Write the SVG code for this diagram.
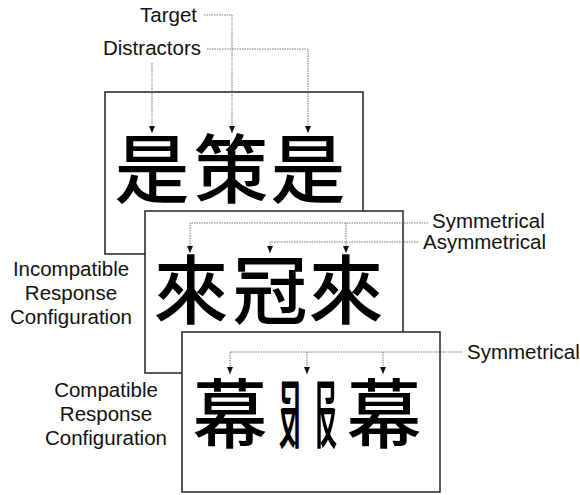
<svg xmlns="http://www.w3.org/2000/svg" width="580" height="495" viewBox="0 0 580 495">
<style>
.card{fill:#fff;stroke:#222;stroke-width:1.5}
.lbl{font-family:"Liberation Sans",Arial,sans-serif;font-size:20.5px;fill:#111}
.han{font-family:"Noto Sans CJK SC","Noto Sans CJK TC",sans-serif;font-size:75px;font-weight:500;fill:#000}
.dot{fill:none;stroke:#777;stroke-width:1;stroke-dasharray:1.5 1}
</style>
<defs>
<marker id="ah" viewBox="0 0 7 6" refX="7" refY="3" markerWidth="7" markerHeight="6" markerUnits="userSpaceOnUse" orient="auto">
<path d="M0,0 L7,3 L0,6 Z" fill="#111"/>
</marker>
</defs>
<rect width="580" height="495" fill="#fff"/>
<g id="card1">
<rect class="card" x="105" y="92" width="258" height="162"/>
<text class="han" x="152" y="197" text-anchor="middle">是</text>
<text class="han" x="231" y="197" text-anchor="middle">策</text>
<text class="han" x="308" y="197" text-anchor="middle">是</text>
</g>
<g id="card2">
<rect class="card" x="145" y="211" width="258" height="162"/>
<text class="han" x="191" y="318" text-anchor="middle">來</text>
<text class="han" x="270" y="318" text-anchor="middle">冠</text>
<text class="han" x="346" y="318" text-anchor="middle">來</text>
</g>
<g id="card3">
<rect class="card" x="182" y="332" width="258" height="160"/>
<text class="han" x="230" y="442" text-anchor="middle">幕</text>
<text class="han" transform="translate(308,442) scale(-0.5,1)" x="0">𠬝</text>
<text class="han" transform="translate(308,442) scale(0.5,1)" x="0">𠬝</text>
<text class="han" x="384" y="442" text-anchor="middle">幕</text>
</g>
<g id="label-target"><text class="lbl" x="140" y="22">Target</text></g>
<g id="label-distractors"><text class="lbl" x="103" y="55">Distractors</text></g>
<g id="label-sym2"><text class="lbl" x="432" y="228">Symmetrical</text></g>
<g id="label-asym2"><text class="lbl" x="423" y="249">Asymmetrical</text></g>
<g id="label-sym3"><text class="lbl" x="467" y="359">Symmetrical</text></g>
<g id="label-incompatible">
<text class="lbl" x="71" y="276" text-anchor="middle">Incompatible</text>
<text class="lbl" x="71" y="300" text-anchor="middle">Response</text>
<text class="lbl" x="71" y="324" text-anchor="middle">Configuration</text>
</g>
<g id="label-compatible">
<text class="lbl" x="106" y="397" text-anchor="middle">Compatible</text>
<text class="lbl" x="106" y="421" text-anchor="middle">Response</text>
<text class="lbl" x="106" y="445" text-anchor="middle">Configuration</text>
</g>
<g id="connectors">
<path class="dot" d="M204,15 H232 V133" marker-end="url(#ah)"/>
<path class="dot" d="M207,49 H308 V133" marker-end="url(#ah)"/>
<path class="dot" d="M152,63 V133" marker-end="url(#ah)"/>
<path class="dot" d="M428,223 H190 V253" marker-end="url(#ah)"/>
<path class="dot" d="M346,223 V253" marker-end="url(#ah)"/>
<path class="dot" d="M418,242 H270 V253" marker-end="url(#ah)"/>
<path class="dot" d="M462,352 H230 V374" marker-end="url(#ah)"/>
<path class="dot" d="M307,352 V374" marker-end="url(#ah)"/>
<path class="dot" d="M383,352 V374" marker-end="url(#ah)"/>
</g>
</svg>
